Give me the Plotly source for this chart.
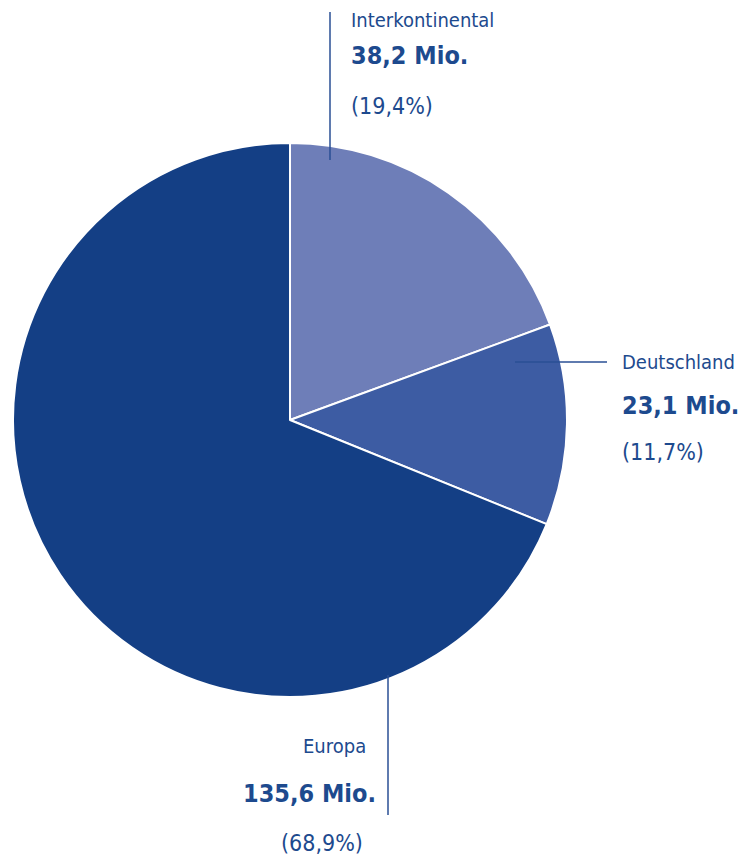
import plotly.graph_objects as go

W, H = 747, 859
OFF = 8  # page offset of the figure in the browser

regions = ["Interkontinental", "Deutschland", "Europa"]
values = [38.2, 23.1, 135.6]
value_labels = ["38,2 Mio.", "23,1 Mio.", "135,6 Mio."]
pct_labels = ["(19,4%)", "(11,7%)", "(68,9%)"]
colors = ["#6E7EB8", "#3D5CA3", "#143F85"]

TXT = "#1D4A8E"
LINE = "#2A4F94"
FONT = "DejaVu Sans Condensed, Roboto Condensed, Liberation Sans Narrow, Roboto, sans-serif"


def px(x):
    return (x - OFF) / W


def py(y):
    return 1 - (y - OFF) / H


fig = go.Figure(go.Pie(
    labels=regions, values=values, sort=False, direction="clockwise", rotation=0,
    marker=dict(colors=colors, line=dict(color="white", width=2)),
    textinfo="none", hoverinfo="label+value", showlegend=False,
    domain=dict(x=[px(13), px(567)], y=[py(697), py(143)]),
))

# label positions (pixels): (x, anchor, name_y, bold_y, pct_y)
label_pos = [
    (349, "left", 20, 56, 106),
    (620, "left", 362, 405, 452),
    (368, "right", 746, 793, 843),
]
bold_x = [349, 620, 378]
pct_x = [349, 620, 365]

annotations = []
for i, (x, anc, y1, y2, y3) in enumerate(label_pos):
    annotations.append(dict(x=px(x), y=py(y1), xref="paper", yref="paper", text=regions[i],
                            showarrow=False, xanchor=anc, yanchor="middle",
                            font=dict(family=FONT, size=20, color=TXT)))
    annotations.append(dict(x=px(bold_x[i]), y=py(y2), xref="paper", yref="paper",
                            text="<b>" + value_labels[i] + "</b>",
                            showarrow=False, xanchor=anc, yanchor="middle",
                            font=dict(family=FONT, size=25, color=TXT)))
    annotations.append(dict(x=px(pct_x[i]), y=py(y3), xref="paper", yref="paper", text=pct_labels[i],
                            showarrow=False, xanchor=anc, yanchor="middle",
                            font=dict(family=FONT, size=23, color=TXT)))

shapes = [
    dict(type="line", xref="paper", yref="paper", x0=px(330), x1=px(330), y0=py(12), y1=py(160),
         line=dict(color=LINE, width=1.5)),
    dict(type="line", xref="paper", yref="paper", x0=px(515), x1=px(607), y0=py(362), y1=py(362),
         line=dict(color=LINE, width=1.5)),
    dict(type="line", xref="paper", yref="paper", x0=px(388), x1=px(388), y0=py(675), y1=py(815),
         line=dict(color=LINE, width=1.5)),
]

fig.update_layout(
    width=W, height=H, margin=dict(l=0, r=0, t=0, b=0),
    paper_bgcolor="white", plot_bgcolor="white",
    annotations=annotations, shapes=shapes,
)

fig.write_html("out.html")
